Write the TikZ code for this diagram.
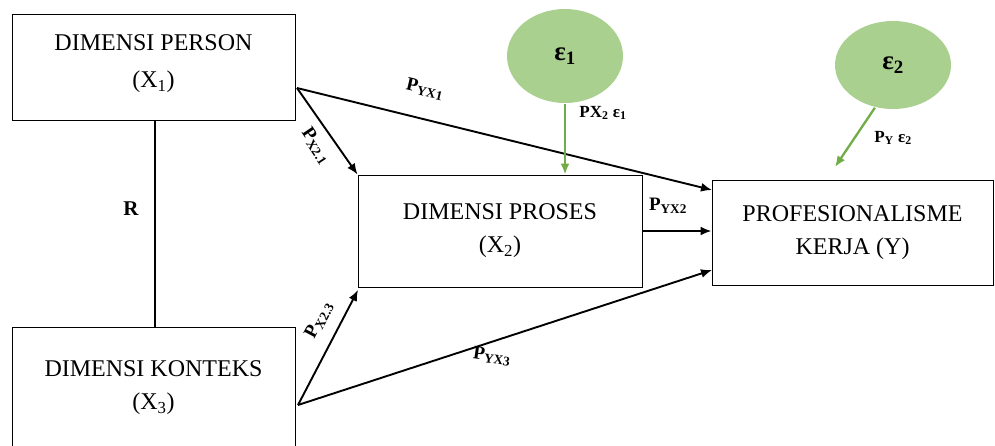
\documentclass[tikz,border=0pt]{standalone}
\usepackage{fontspec}
\setmainfont{Liberation Serif}
\usepackage{tikz}
\usetikzlibrary{arrows.meta,shapes}
\usetikzlibrary{positioning}
\usetikzlibrary{calc}
\definecolor{green1}{RGB}{169,208,142}
\definecolor{green2}{RGB}{112,173,71}
\def\pth#1{\textbf{P}\textsubscript{\textbf{#1}}}

\begin{document}
\begin{tikzpicture}[x=1pt, y=-1pt, >={Latex[length=11pt,width=9pt]}, line width=1.9pt,
    dimbox/.style={draw, line width=1pt, rectangle, align=center, font=\fontsize{24}{33}\selectfont, inner sep=0pt},
    errnode/.style={draw=none, fill=green1, ellipse, minimum width=116pt, minimum height=94pt, font=\fontsize{27}{30}\selectfont\bfseries},
    lbl/.style={font=\fontsize{19}{22}\selectfont, inner sep=1pt}]
    \useasboundingbox (0,0) rectangle (995,445);
    % boxes
    \node[dimbox, minimum width=283pt, minimum height=106pt, font=\fontsize{24}{37}\selectfont] (x1) at (153.5,67) {DIMENSI PERSON\\(X\textsubscript{1})\\[-26pt]};
    \node[dimbox, minimum width=283pt, minimum height=122pt] (x3) at (153.5,388) {DIMENSI KONTEKS\\(X\textsubscript{3})};
    \node[dimbox, minimum width=284pt, minimum height=112pt] (x2) at (500,231) {DIMENSI PROSES\\(X\textsubscript{2})};
    \node[dimbox, minimum width=281pt, minimum height=105pt] (y) at (852.5,232.5) {PROFESIONALISME\\KERJA (Y)};
    % error terms
    \node[errnode] (e1) at (565,56) {ε\textsubscript{1}};
    \node[errnode, minimum height=88pt] (e2) at (893,65) {ε\textsubscript{2}};
    % start points
    \coordinate (x1out) at (297,88);
    \coordinate (x3out) at (298,405);
    \coordinate (yin1) at (712,190);
    \coordinate (yin3) at (712,270);
    \coordinate (x2in3) at (358,290);
    \coordinate (yine2) at (835,167);
    % paths
    \draw[line width=2.2pt] (x1.south -| 155,0) -- (x3.north -| 155,0);
    \draw[->] (x1out) -- (x2.north west);
    \draw[->] (x1out) -- (yin1);
    \draw[->] (x3out) -- (x2in3);
    \draw[->] (x3out) -- (yin3);
    \draw[->] (x2.east) -- (x2.east -| y.west);
    \draw[->, green2, line width=2.3pt] (e1.south) -- (x2.north -| e1.south);
    \draw[->, green2, line width=2.3pt] (e2.247) -- (yine2);
    % labels
    \node[lbl, font=\fontsize{21}{24}\selectfont] at (131,209) {\textbf{R}};
    \node[lbl, rotate=-13] at (425,89) {\pth{YX1}};
    \node[lbl, rotate=-56] at (316,146) {\pth{X2.1}};
    \node[lbl, rotate=62] at (319,320) {\pth{X2.3}};
    \node[lbl, rotate=-8] at (492,356) {\pth{YX3}};
    \node[lbl] at (668,206) {\pth{YX2}};
    \node[lbl, font=\fontsize{17}{20}\selectfont] at (603,113) {\textbf{PX\textsubscript{2} ε\textsubscript{1}}};
    \node[lbl, font=\fontsize{17}{20}\selectfont] at (893,138) {\textbf{P\textsubscript{Y} ε\textsubscript{2}}};
\end{tikzpicture}
\end{document}
